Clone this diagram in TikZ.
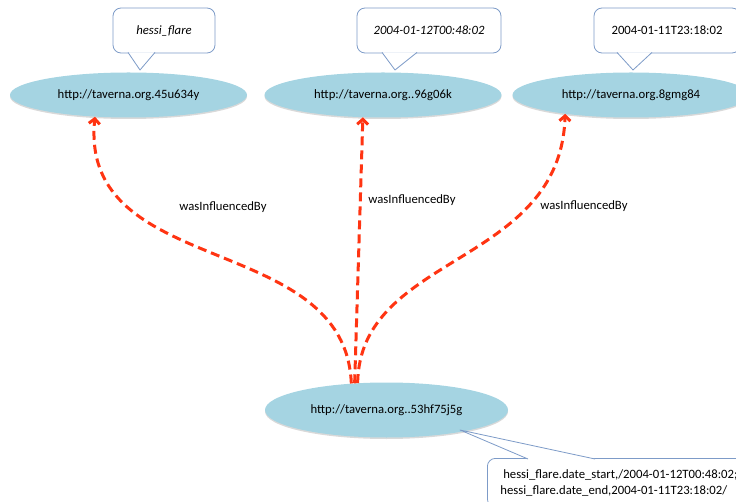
\documentclass[tikz,border=0pt]{standalone}
\usepackage{fontspec}
\setmainfont{Carlito}
\usetikzlibrary{arrows.meta,shapes.geometric,shadows,calc}
\definecolor{entblue}{RGB}{165,212,226}
\definecolor{inflred}{RGB}{255,52,18}
\definecolor{notegray}{RGB}{125,155,200}
\begin{document}
\begin{tikzpicture}[x=1pt, y=-1pt, font=\fontsize{12.7}{16}\selectfont, line join=round,
	entity/.style={ellipse, fill=entblue, minimum width=237pt, minimum height=45pt, inner sep=0pt,
		drop shadow={shadow xshift=0pt, shadow yshift=-1.5pt, opacity=.3}},
	note/.style={draw=notegray, fill=white, rounded corners=8pt, line width=.8pt, minimum height=45pt},
	infl/.style={draw=inflred, line width=3pt, dash pattern=on 9pt off 5pt, -{Straight Barb[length=5pt,width=11pt]}}]
	\useasboundingbox (0,0) rectangle (736,502);
	% entities
	\node[entity] (e1) at (128.5,95) {http://taverna.org.45u634y};
	\node[entity] (e2) at (383,95) {http://taverna.org..96g06k};
	\node[entity] (e3) at (631,95) {http://taverna.org.8gmg84};
	\node[entity, minimum width=243pt, minimum height=55pt] (e4) at (386.5,410) {http://taverna.org..53hf75j5g};
	% influence
	\draw[infl] (e4.143) .. controls +(-6,-153) and +(-16,163) .. (e1.213);
	\draw[infl] (e4.140) -- (e2.228);
	\draw[infl] (e4.137) .. controls +(2,-130) and +(-5,153) .. (e3.196);
	\node (l1) at (223,207) {wasInfluencedBy};
	\node (l2) at (412,200) {wasInfluencedBy};
	\node (l3) at (584,206) {wasInfluencedBy};
	% notes
	\node[note, minimum width=102pt] (n1) at (164,30.5) {\itshape hessi\_flare};
	\node[note, minimum width=144pt] (n2) at (429,30.5) {\itshape 2004-01-12T00:48:02};
	\node[note, minimum width=146pt] (n3) at (667,30.5) {2004-01-11T23:18:02};
	\node[note, anchor=north west, align=left, inner xsep=13pt, inner ysep=11pt] (n4) at (487,458)
		{\ hessi\_flare.date\_start,/2004-01-12T00:48:02;\\hessi\_flare.date\_end,2004-01-11T23:18:02/};
	\coordinate (p1) at (140,70);
	\coordinate (p2) at (395,70);
	\coordinate (p3) at (633,70);
	\coordinate (p4) at (460,430);
	\filldraw[fill=white, draw=notegray, line width=.8pt] ($(n1.south)+(-36,-1)$) -- (p1) -- ($(n1.south)+(-9,-1)$);
	\filldraw[fill=white, draw=notegray, line width=.8pt] ($(n2.south)+(-47,-1)$) -- (p2) -- ($(n2.south)+(-12,-1)$);
	\filldraw[fill=white, draw=notegray, line width=.8pt] ($(n3.south)+(-50,-1)$) -- (p3) -- ($(n3.south)+(-15,-1)$);
	\filldraw[fill=white, draw=notegray, line width=.8pt] ($(n4.north west)+(41,1)$) -- (p4) -- ($(n4.north west)+(108,1)$);
\end{tikzpicture}
\end{document}
